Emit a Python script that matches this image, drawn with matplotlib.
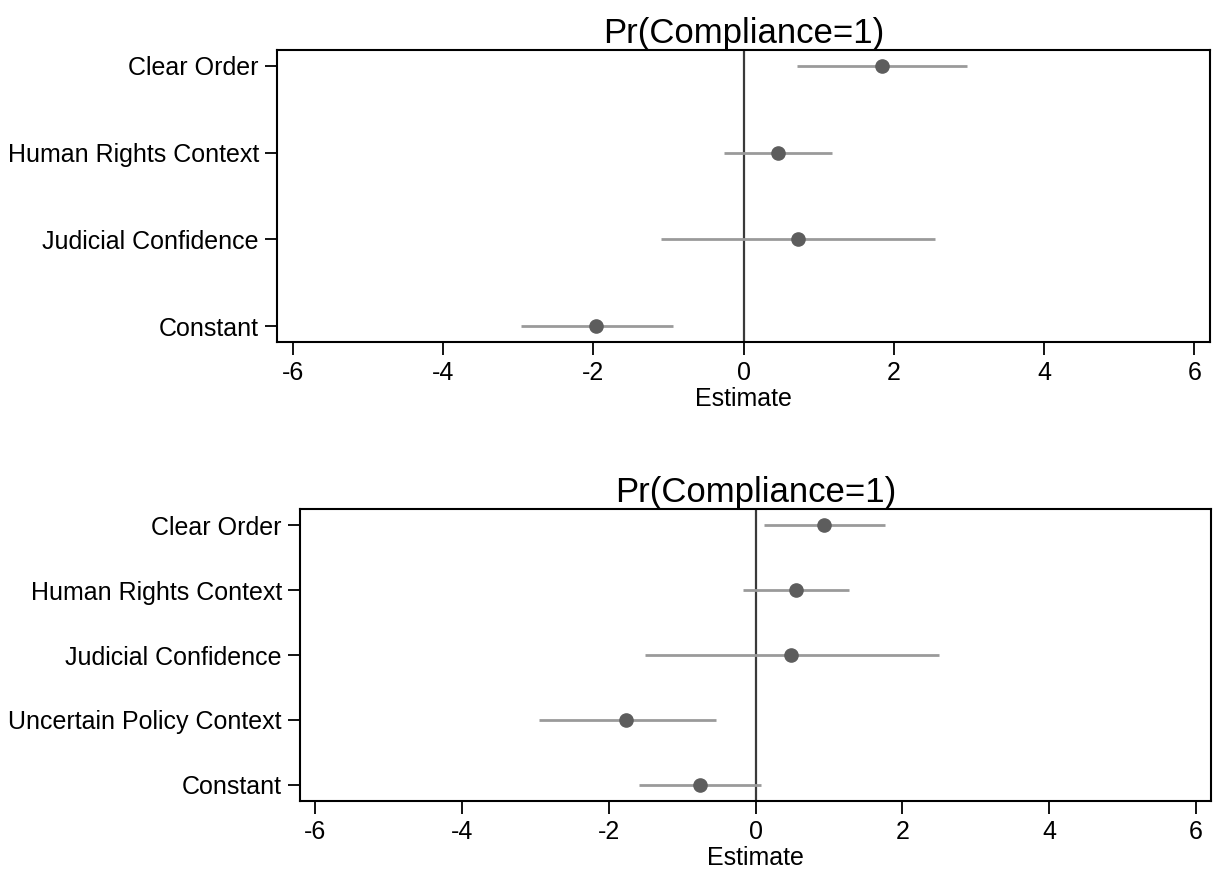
import matplotlib

matplotlib.use("Agg")
import matplotlib.pyplot as plt

plt.rcParams["font.family"] = ["Liberation Sans", "DejaVu Sans"]

# model 1
labels_1 = ["Clear Order", "Human Rights Context", "Judicial Confidence", "Constant"]
est_1 = [1.84, 0.455, 0.72, -1.96]
lo_1 = [0.71, -0.26, -1.10, -2.96]
hi_1 = [2.97, 1.18, 2.55, -0.94]

# model 2
labels_2 = ["Clear Order", "Human Rights Context", "Judicial Confidence",
            "Uncertain Policy Context", "Constant"]
est_2 = [0.93, 0.55, 0.49, -1.76, -0.76]
lo_2 = [0.11, -0.17, -1.51, -2.95, -1.59]
hi_2 = [1.76, 1.27, 2.50, -0.54, 0.075]

title = "Pr(Compliance=1)"
xticks = [-6, -4, -2, 0, 2, 4, 6]

W, H = 1214, 871
fig = plt.figure(figsize=(W / 100, H / 100), dpi=100)


def add_axes(left, right, top, bottom):
    return fig.add_axes([left / W, 1 - bottom / H, (right - left) / W, (bottom - top) / H])


def draw_panel(ax, labels, est, lo, hi, pad):
    n = len(labels)
    ypos = list(range(n, 0, -1))
    ax.axvline(0, color="#3a3a3a", lw=1.6, zorder=1)
    ax.hlines(ypos, lo, hi, color="#9a9a9a", lw=2.0, zorder=2)
    ax.plot(est, ypos, "o", color="#5d5d5d", ms=9.5, zorder=3)
    ax.set_xlim(-6.21, 6.21)
    ax.set_ylim(1 - pad, n + pad)
    ax.set_yticks(ypos)
    ax.set_yticklabels(labels)
    ax.set_xticks(xticks)
    ax.set_xticklabels([str(t) for t in xticks])
    ax.tick_params(axis="both", length=9, width=1.3, labelsize=18, direction="out")
    ax.tick_params(axis="y", pad=4)
    ax.tick_params(axis="x", pad=5)
    for sp in ax.spines.values():
        sp.set_linewidth(1.5)
    ax.set_xlabel("Estimate", fontsize=18, labelpad=1)
    ax.set_title(title, fontsize=25, pad=4)


ax1 = add_axes(277, 1210, 50, 342)
draw_panel(ax1, labels_1, est_1, lo_1, hi_1, 0.18)

ax2 = add_axes(300, 1211, 509, 801)
draw_panel(ax2, labels_2, est_2, lo_2, hi_2, 0.25)

fig.savefig("out.png", dpi=100, facecolor="white")
